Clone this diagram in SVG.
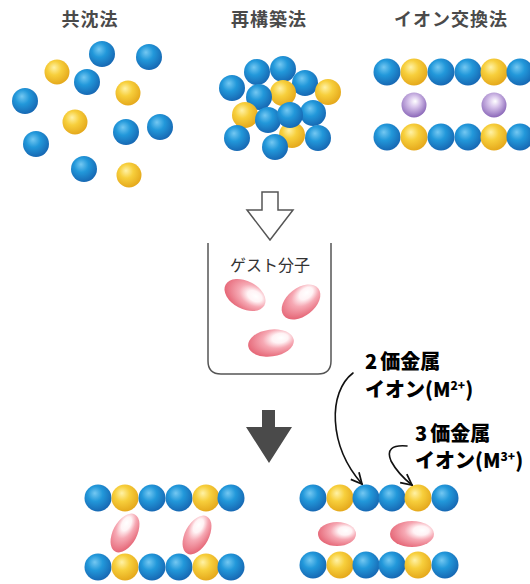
<svg xmlns="http://www.w3.org/2000/svg" width="530" height="584" viewBox="0 0 530 584">
  <defs>
    <radialGradient id="gBlue" cx="0.42" cy="0.38" r="0.62" fx="0.38" fy="0.32">
      <stop offset="0" stop-color="#74c8f2"/>
      <stop offset="0.45" stop-color="#2298da"/>
      <stop offset="1" stop-color="#1769b4"/>
    </radialGradient>
    <radialGradient id="gYellow" cx="0.42" cy="0.38" r="0.62" fx="0.38" fy="0.32">
      <stop offset="0" stop-color="#fff2a6"/>
      <stop offset="0.45" stop-color="#f7cf3c"/>
      <stop offset="1" stop-color="#e5a91c"/>
    </radialGradient>
    <radialGradient id="gPurple" cx="0.45" cy="0.4" r="0.62" fx="0.55" fy="0.35">
      <stop offset="0" stop-color="#ffffff"/>
      <stop offset="0.35" stop-color="#d9c6ec"/>
      <stop offset="1" stop-color="#8763b6"/>
    </radialGradient>
    <radialGradient id="gPink" cx="0.62" cy="0.4" r="0.7" fx="0.74" fy="0.36">
      <stop offset="0" stop-color="#ffffff"/>
      <stop offset="0.25" stop-color="#fff3f5"/>
      <stop offset="0.5" stop-color="#f6a9b4"/>
      <stop offset="1" stop-color="#e35d6e"/>
    </radialGradient>
    <marker id="vHead" viewBox="0 0 12 12" refX="11" refY="6" markerWidth="13" markerHeight="13" markerUnits="userSpaceOnUse" orient="auto">
      <path d="M1,1 L11,6 L1,11" fill="none" stroke="#111" stroke-width="1.6"/>
    </marker>
    <style>
      .b{fill:url(#gBlue)}
      .y{fill:url(#gYellow)}
      .p{fill:url(#gPurple)}
      .g{fill:url(#gPink)}
      .title{font-family:"Noto Sans CJK JP","Noto Sans",sans-serif;font-size:18px;font-weight:700;fill:#4a4a4a;text-anchor:middle;letter-spacing:1px}
      .lab{font-family:"Noto Sans CJK JP","Noto Sans",sans-serif;font-size:20px;font-weight:900;fill:#000}
      .guest{font-family:"Noto Sans CJK JP","Noto Sans",sans-serif;font-size:16px;fill:#333;text-anchor:middle}
      .wire{fill:none;stroke:#111;stroke-width:1.6;stroke-linecap:round}
    </style>
  </defs>
  <rect width="530" height="584" fill="#ffffff"/>

  <!-- co-precipitation: scattered ions -->
  <g id="coprecipitation">
    <text class="title" x="90" y="26">共沈法</text>
    <circle class="b" cx="102" cy="54" r="13"/>
    <circle class="b" cx="149" cy="57" r="13"/>
    <circle class="y" cx="57" cy="72" r="12.5"/>
    <circle class="b" cx="87" cy="82" r="13"/>
    <circle class="y" cx="128" cy="93" r="12.5"/>
    <circle class="b" cx="25" cy="101" r="13"/>
    <circle class="y" cx="75" cy="122" r="12.5"/>
    <circle class="b" cx="126" cy="132" r="13"/>
    <circle class="b" cx="160" cy="127" r="13"/>
    <circle class="b" cx="36" cy="144" r="13"/>
    <circle class="b" cx="84" cy="169" r="13"/>
    <circle class="y" cx="129" cy="175" r="12.5"/>
  </g>

  <!-- reconstruction: packed cluster -->
  <g id="reconstruction">
    <text class="title" x="269" y="26">再構築法</text>
    <circle class="b" cx="257" cy="72" r="13"/>
    <circle class="b" cx="283" cy="69" r="13"/>
    <circle class="b" cx="305" cy="83" r="13"/>
    <circle class="b" cx="232" cy="88" r="13"/>
    <circle class="y" cx="328" cy="92" r="13"/>
    <circle class="y" cx="283" cy="93" r="13"/>
    <circle class="b" cx="259" cy="97" r="13"/>
    <circle class="y" cx="292" cy="135" r="13"/>
    <circle class="b" cx="313" cy="113" r="13"/>
    <circle class="y" cx="245" cy="115" r="13"/>
    <circle class="b" cx="268" cy="120" r="13"/>
    <circle class="b" cx="290" cy="115" r="13"/>
    <circle class="b" cx="237" cy="138" r="13"/>
    <circle class="b" cx="318" cy="138" r="13"/>
    <circle class="b" cx="275" cy="147" r="13"/>
  </g>

  <!-- ion exchange: two layers with interlayer ions -->
  <g id="ion-exchange">
    <text class="title" x="451" y="26">イオン交換法</text>
    <circle class="b" cx="387" cy="72" r="13.5"/>
    <circle class="y" cx="414" cy="72" r="13.5"/>
    <circle class="b" cx="441" cy="72" r="13.5"/>
    <circle class="b" cx="468" cy="72" r="13.5"/>
    <circle class="y" cx="494" cy="72" r="13.5"/>
    <circle class="b" cx="520" cy="72" r="13.5"/>
    <circle class="p" cx="414" cy="105" r="12.5"/>
    <circle class="p" cx="494" cy="105" r="12.5"/>
    <circle class="b" cx="387" cy="137" r="13.5"/>
    <circle class="y" cx="414" cy="137" r="13.5"/>
    <circle class="b" cx="441" cy="137" r="13.5"/>
    <circle class="b" cx="468" cy="137" r="13.5"/>
    <circle class="y" cx="494" cy="137" r="13.5"/>
    <circle class="b" cx="520" cy="137" r="13.5"/>
  </g>

  <!-- beaker with guest molecules -->
  <g id="guest-beaker">
    <path d="M208,243 V361 Q208,374 221,374 H318 Q331,374 331,361 V243" fill="none" stroke="#555" stroke-width="1.5"/>
    <text class="guest" x="270" y="271">ゲスト分子</text>
    <ellipse class="g" cx="0" cy="0" rx="22" ry="14" transform="translate(245,295) rotate(28)"/>
    <ellipse class="g" cx="0" cy="0" rx="22" ry="14" transform="translate(301,302) rotate(-38)"/>
    <ellipse class="g" cx="0" cy="0" rx="23" ry="13.5" transform="translate(271,343) rotate(-8)"/>
  </g>

  <!-- product: guest-intercalated layers (tilted) -->
  <g id="product-left">
    <circle class="b" cx="98" cy="498" r="13.5"/>
    <circle class="y" cx="125" cy="498" r="13.5"/>
    <circle class="b" cx="152" cy="498" r="13.5"/>
    <circle class="b" cx="179" cy="498" r="13.5"/>
    <circle class="y" cx="206" cy="498" r="13.5"/>
    <circle class="b" cx="231" cy="498" r="13.5"/>
    <ellipse class="g" cx="0" cy="0" rx="21" ry="12" transform="translate(125,533) rotate(-62)"/>
    <ellipse class="g" cx="0" cy="0" rx="21" ry="12" transform="translate(197,535) rotate(-62)"/>
    <circle class="b" cx="98" cy="567" r="13.5"/>
    <circle class="y" cx="125" cy="567" r="13.5"/>
    <circle class="b" cx="152" cy="567" r="13.5"/>
    <circle class="b" cx="179" cy="567" r="13.5"/>
    <circle class="y" cx="206" cy="567" r="13.5"/>
    <circle class="b" cx="231" cy="567" r="13.5"/>
  </g>

  <!-- product: guest-intercalated layers (flat) -->
  <g id="product-right">
    <circle class="b" cx="313" cy="498" r="13.5"/>
    <circle class="y" cx="340" cy="498" r="13.5"/>
    <circle class="b" cx="366" cy="498" r="13.5"/>
    <circle class="b" cx="392" cy="498" r="13.5"/>
    <circle class="y" cx="418" cy="498" r="13.5"/>
    <circle class="b" cx="445" cy="498" r="13.5"/>
    <ellipse class="g" cx="337" cy="534" rx="19" ry="12"/>
    <ellipse class="g" cx="412" cy="534" rx="22" ry="13"/>
    <circle class="b" cx="313" cy="565" r="13.5"/>
    <circle class="y" cx="340" cy="565" r="13.5"/>
    <circle class="b" cx="366" cy="565" r="13.5"/>
    <circle class="b" cx="392" cy="565" r="13.5"/>
    <circle class="y" cx="418" cy="565" r="13.5"/>
    <circle class="b" cx="445" cy="565" r="13.5"/>
  </g>

  <g id="label-m2">
    <text class="lab" x="365" y="369">2<tspan dx="3">価金属</tspan></text>
    <text class="lab" x="365" y="397">イオン(M<tspan font-size="12" dy="-7">2+</tspan><tspan dy="7">)</tspan></text>
  </g>

  <g id="label-m3">
    <text class="lab" x="415" y="441">3<tspan dx="3">価金属</tspan></text>
    <text class="lab" x="415" y="468">イオン(M<tspan font-size="12" dy="-7">3+</tspan><tspan dy="7">)</tspan></text>
  </g>

  <g id="connectors">
    <!-- hollow arrow into the beaker -->
    <path d="M262,192 H278 V210 H293 L270,240 L247,210 H262 Z" fill="#ffffff" stroke="#555" stroke-width="1.5" stroke-linejoin="miter"/>
    <!-- solid arrow to the products -->
    <path d="M262,410 H275 V427 H292 L269,463 L246,427 H262 Z" fill="#4a4a4a"/>
    <!-- M2+ into the layer -->
    <path class="wire" d="M353,373 C328,392 328,445 362,484" marker-end="url(#vHead)"/>
    <!-- M3+ into the layer -->
    <path class="wire" d="M407,446 Q384,444 391,461 Q398,474 412,485" marker-end="url(#vHead)"/>
  </g>
</svg>
